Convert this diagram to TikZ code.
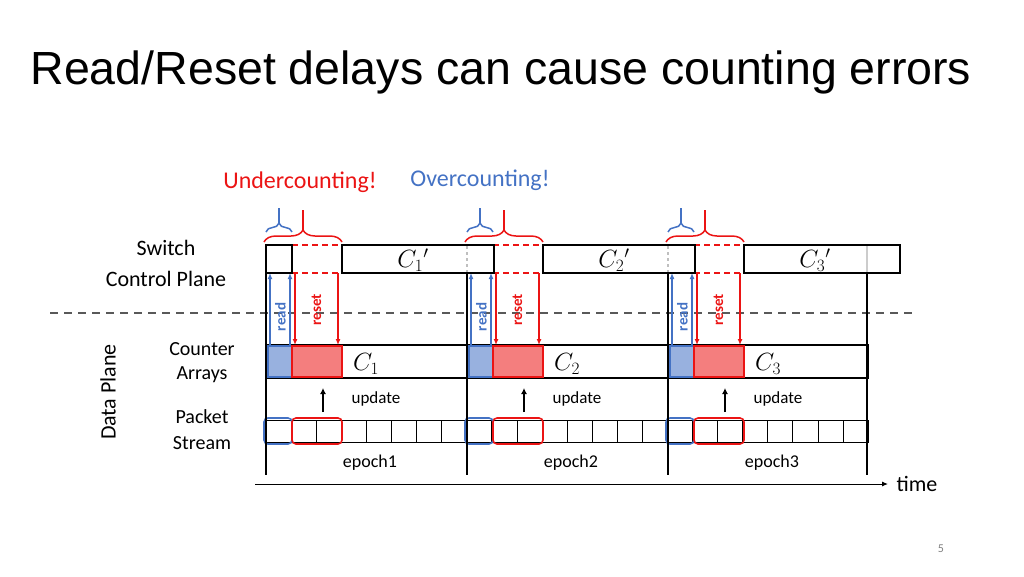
\documentclass[tikz,border=0pt]{standalone}
\usepackage{fontspec}
\setmainfont{Carlito}
\newfontfamily\titlefont{Liberation Sans}
\usetikzlibrary{decorations.pathreplacing,arrows.meta}
\definecolor{myred}{RGB}{235,20,20}
\definecolor{myblue}{RGB}{68,114,196}
\begin{document}
\begin{tikzpicture}[x=1pt,y=-1pt,
  lbl/.style={font=\fontsize{22}{22}\selectfont},
  hdr/.style={font=\fontsize{24}{24}\selectfont},
  sml/.style={font=\fontsize{20}{20}\selectfont},
  cfont/.style={font=\fontsize{24}{24}\selectfont},
  blk/.style={draw=black,line width=1.5pt},
  redarr/.style={draw=myred,line width=1.5pt,-{Latex[length=6pt,width=5pt]}},
  bluearr/.style={draw=myblue,line width=1.5pt,-{Latex[length=6pt,width=5pt]}},
  cell/.style={draw=black,line width=0.6pt}]
\useasboundingbox (0,0) rectangle (1024,576);
\node[anchor=west,font=\titlefont\fontsize{46.5}{46.5}\selectfont] (title) at (27,72) {Read/Reset delays can cause counting errors};
\node[text=myred,hdr] (under) at (300,182) {Undercounting!};
\node[text=myblue,hdr] (over) at (480,180) {Overcounting!};
\node[lbl] (sw) at (166,248) {Switch};
\node[lbl] (cp) at (166,279) {Control Plane};
\node[lbl,rotate=90] (dp) at (108,392) {Data Plane};
\node[sml] (ca1) at (202,349) {Counter};
\node[sml] (ca2) at (202,375) {Arrays};
\node[sml] (ps1) at (202,417) {Packet};
\node[sml] (ps2) at (202,443) {Stream};
\draw[gray!70!black,dashed,line width=1.3pt,dash pattern=on 8pt off 6pt] (50,313) -- (915,313);
\foreach \i in {0,...,23}{\draw[cell] ({266+\i*25.083},420) rectangle ({266+(\i+1)*25.083},442);}
\draw[blk] (266,345) rectangle (868,378);
\foreach \k/\lab in {0/1,1/2,2/3}{
  \begin{scope}[xshift=\k*201]
  \fill[myblue!55] (267,346) rectangle (292,377);
  \fill[myred!55] (292,346) rectangle (342,377);
  \draw[myblue,line width=1.5pt] (268,346) rectangle (292,377);
  \draw[myred,line width=1.5pt] (292,346) rectangle (342,377);
  \node[cfont] (c\k) at (366,364) {$C_{\lab}$};
  \node[font=\fontsize{17}{17}\selectfont] (up\k) at (376,399) {update};
  \draw[black,line width=1.6pt,-{Latex[length=6pt,width=6pt]}] (323,412) -- (323,388);
  \node[font=\fontsize{18}{18}\selectfont] (ep\k) at (370,463) {epoch\lab};
  \draw[myblue,line width=1.6pt,rounded corners=4pt] (264,418) rectangle (292,444);
  \draw[myred,line width=1.6pt,rounded corners=4pt] (292,418) rectangle (342,444);
  \draw[myred,line width=1.5pt,dashed,dash pattern=on 6pt off 4pt] (292,245) -- (342,245) (292,273) -- (342,273) (342,245) -- (342,273);
  \draw[bluearr] (270,345) -- (270,273);
  \draw[bluearr] (290,345) -- (290,273);
  \draw[redarr] (295,273) -- (295,345);
  \draw[redarr] (338,273) -- (338,345);
  \node[rotate=90,text=myblue,font=\bfseries\fontsize{15}{15}\selectfont] (rd\k) at (280.5,317) {read};
  \node[rotate=90,text=myred,font=\bfseries\fontsize{15}{15}\selectfont] (rs\k) at (316.5,310) {reset};
  \draw[myblue,line width=1.5pt,decorate,decoration={brace,amplitude=9pt}] (266,232) -- (292,232);
  \draw[myblue,line width=1.5pt] (279,224) -- (279,208);
  \draw[myred,line width=1.5pt,decorate,decoration={brace,amplitude=12pt}] (264,242) -- (342,242);
  \draw[myred,line width=1.5pt] (303,230) -- (303,210);
  \end{scope}}
\draw[blk] (266,245) -- (266,475);
\draw[blk] (467,273) -- (467,475);
\draw[blk] (668,273) -- (668,475);
\draw[blk] (867,272) -- (867,475);
\draw[blk] (266,245) rectangle (292,273);
\draw[blk] (342,245) rectangle (494,273);
\draw[blk] (543,245) rectangle (695,273);
\draw[blk] (744,245) rectangle (900,273);
\draw[gray!50,line width=1.5pt,dashed] (467,246) -- (467,272);
\draw[gray!50,line width=1.5pt,dashed] (668,246) -- (668,272);
\draw[gray!40,line width=1.5pt] (867,246) -- (867,272);
\node[cfont] (cp1) at (413,260) {$C_1{}'$};
\node[cfont] (cp2) at (614,260) {$C_2{}'$};
\node[cfont] (cp3) at (815,260) {$C_3{}'$};
\coordinate (t0) at (255,484);
\coordinate (t1) at (888,484);
\draw[line width=1pt,-{Latex[length=6pt,width=5pt]}] (t0) -- (t1);
\node[lbl,anchor=west] (time) at (893,484) {time};
\node[text=gray,font=\fontsize{12}{12}\selectfont] (pg) at (941,549) {5};
\end{tikzpicture}
\end{document}
